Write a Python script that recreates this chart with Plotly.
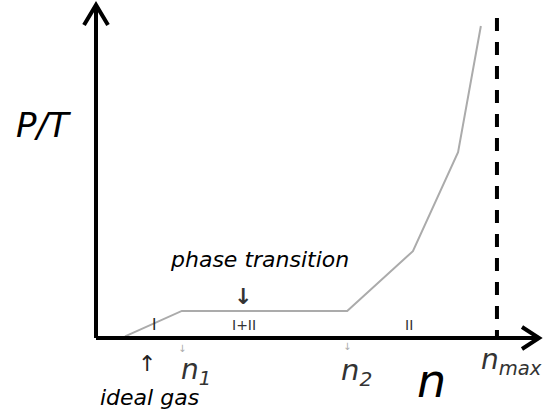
import plotly.graph_objects as go

# ---- data ----
n_vals = [0.65, 1.92, 5.62, 7.09, 8.10, 8.61]
pt_vals = [0.05, 0.80, 0.80, 2.57, 5.50, 9.23]
n_max = 8.97
n1 = 1.92
n2 = 5.62
n_ideal = 1.15
region_labels = ["I", "I+II", "II"]
region_x = [1.30, 3.30, 7.00]

# ---- layout geometry (axes span the whole figure; origin at pixel 96,338) ----
W, H = 543, 411
OX, OY = 96, 338
SX, SY = 44.7, 33.8  # pixels per data unit


def px(x):
    return (x - OX) / SX


def py(y):
    return (OY - y) / SY


FONT = "DejaVu Sans, sans-serif"

fig = go.Figure()

fig.add_trace(go.Scatter(
    x=n_vals, y=pt_vals, mode="lines",
    line=dict(color="#ababab", width=2),
    cliponaxis=False, hoverinfo="skip", showlegend=False))

fig.add_trace(go.Scatter(
    x=[n_max, n_max], y=[py(18), 0], mode="lines",
    line=dict(color="black", width=4, dash="13px,11px"),
    cliponaxis=False, hoverinfo="skip", showlegend=False))

shapes = [
    # axes
    dict(type="line", xref="x", yref="y", x0=0, y0=0, x1=0, y1=py(5),
         line=dict(color="black", width=4)),
    dict(type="line", xref="x", yref="y", x0=0, y0=0, x1=px(539), y1=0,
         line=dict(color="black", width=4)),
    # arrow heads (pixel-sized, y up)
    dict(type="path", xref="x", yref="y", xsizemode="pixel", ysizemode="pixel",
         xanchor=0, yanchor=py(5), path="M -12 -20 L 0 0 L 12 -20",
         line=dict(color="black", width=4)),
    dict(type="path", xref="x", yref="y", xsizemode="pixel", ysizemode="pixel",
         xanchor=px(539), yanchor=0, path="M -17 11 L 0 0 L -17 -11",
         line=dict(color="black", width=4)),
]

ann = []


def text(x, y, s, size, color="black", xanchor="center", yanchor="middle"):
    ann.append(dict(x=x, y=y, xref="x", yref="y", text=s, showarrow=False,
                    xanchor=xanchor, yanchor=yanchor,
                    font=dict(family=FONT, size=size, color=color)))


text(px(43), py(125), "<i>P/T</i>", 34)
text(px(259), py(259), "<i>phase transition</i>", 22)
text(px(243), py(296), "<b>↓</b>", 22, "#333")
text(px(154), py(325), region_labels[0], 15, "#222")
text(region_x[1], py(325), region_labels[1], 14, "#333")
text(region_x[2], py(325), region_labels[2], 14, "#333")
text(n_ideal, py(363), "↑", 22, "#222")
text(px(149), py(397), "<i>ideal gas</i>", 22)
text(n1 + 0.32, py(371), "<i>n<sub>1</sub></i>", 28, "#333")
text(n2 + 0.2, py(372), "<i>n<sub>2</sub></i>", 29, "#333")
text(px(479), py(361), "<i>n<sub>max</sub></i>", 28, "#333", xanchor="left")
text(px(431), py(410), "<i>n</i>", 46, yanchor="bottom")
# faint tick marks below axis
text(n1, py(348), "↓", 10, "#aaa")
text(n2, py(346), "↓", 10, "#aaa")

fig.update_layout(
    width=W, height=H,
    margin=dict(l=0, r=0, t=0, b=0, pad=0),
    paper_bgcolor="white", plot_bgcolor="white",
    xaxis=dict(range=[px(0), px(W)], visible=False, fixedrange=True),
    yaxis=dict(range=[py(H), py(0)], visible=False, fixedrange=True),
    shapes=shapes, annotations=ann, showlegend=False,
)

fig.write_html("out.html", config={"displayModeBar": False},
               post_script="document.body.style.margin='0px';")
